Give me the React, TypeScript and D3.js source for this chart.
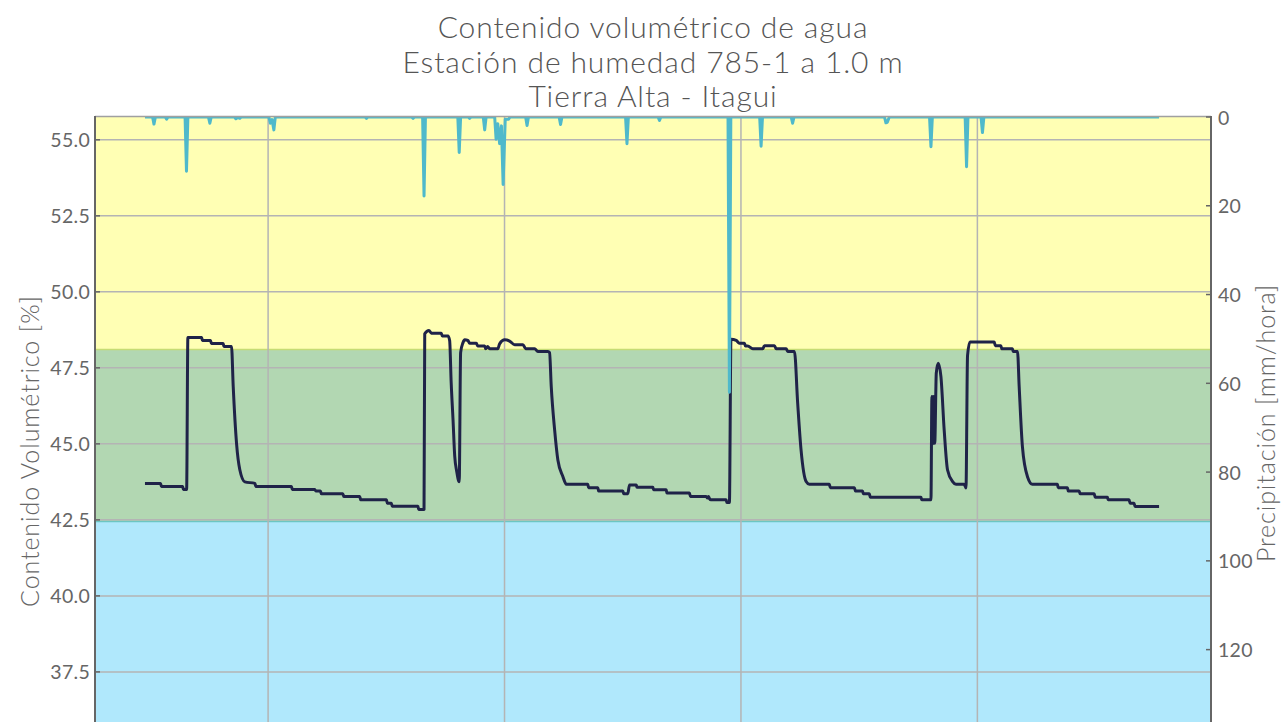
import React, { useEffect, useRef } from "react";
import * as d3 from "d3";

// series start (local time); x values below are hours since this moment
const startDate = new Date(2019, 8, 30, 21);
const endDate = new Date(2019, 10, 2, 22);
const gridDates = ["2019-10-06", "2019-10-13", "2019-10-20", "2019-10-27"];

const titleLines = [
  "Contenido volumétrico de agua",
  "Estación de humedad 785-1 a 1.0 m",
  "Tierra Alta - Itagui",
];

const leftTicks = [37.5, 40.0, 42.5, 45.0, 47.5, 50.0, 52.5, 55.0];
const rightTicks = [0, 20, 40, 60, 80, 100, 120];

// band limits [%]
const bandHigh = 48.1;
const bandLow = 42.45;

// soil water content
const soilHours = [
  35.5, 46.6, 47.2, 62.3, 62.8, 65.1, 66.0, 75.8, 76.3, 82.1, 82.7, 91.1, 91.6,
  97.0, 98.2, 100.6, 102.9, 106.5, 113.6, 114.3, 139.6, 140.2, 156.2, 156.9,
  160.2, 160.8, 176.1, 176.8, 188.1, 188.8, 207.1, 207.7, 210.6, 211.2, 229.5,
  230.0, 233.8, 234.3, 237.3, 239.0, 246.1, 246.7, 250.8, 252.0, 253.1, 254.4,
  255.6, 257.0, 258.8, 259.8, 261.5, 262.7, 265.0, 266.2, 271.0, 271.9, 276.9,
  277.6, 279.0, 280.4, 286.3, 287.5, 291.1, 294.6, 298.2, 304.1, 306.0, 312.4,
  314.7, 321.8, 323.0, 324.2, 326.6, 328.9, 332.5, 334.9, 350.2, 350.7, 357.3,
  357.8, 375.1, 375.6, 378.6, 379.8, 384.6, 385.1, 396.4, 396.9, 405.9, 406.4,
  422.4, 423.1, 434.3, 435.2, 435.9, 436.6, 437.7, 448.5, 449.0, 450.8, 451.9,
  455.6, 457.9, 461.5, 462.2, 463.8, 467.4, 474.5, 475.7, 482.8, 484.0, 491.1,
  492.2, 497.0, 499.3, 501.7, 505.3, 507.6, 521.8, 522.5, 539.6, 540.3, 545.4,
  545.9, 550.2, 550.9, 586.9, 587.5, 594.0, 594.7, 595.3, 596.0, 596.7, 597.8,
  599.2, 601.1, 603.4, 605.8, 609.4, 611.8, 617.6, 618.9, 620.0, 621.7, 639.0,
  639.7, 643.7, 644.3, 651.9, 652.4, 655.5, 656.7, 659.0, 662.6, 666.1, 683.9,
  684.4, 691.0, 691.5, 699.3, 700.0, 710.0, 710.7, 719.4, 719.9, 734.8, 735.5,
  738.3, 739.0, 756.1,
];
const soilValues = [
  43.7, 43.7, 43.6, 43.6, 43.5, 43.5, 48.5, 48.5, 48.4, 48.4, 48.3, 48.3, 48.2,
  48.2, 46.9, 45.0, 44.15, 43.75, 43.7, 43.6, 43.6, 43.5, 43.5, 43.45, 43.45,
  43.36, 43.36, 43.27, 43.27, 43.16, 43.16, 43.05, 43.05, 42.95, 42.95, 42.84,
  42.84, 48.62, 48.73, 48.64, 48.64, 48.55, 48.55, 48.4, 47.0, 45.8, 44.6, 44.1,
  43.75, 48.0, 48.33, 48.42, 48.4, 48.31, 48.31, 48.22, 48.22, 48.13, 48.2,
  48.13, 48.13, 48.29, 48.42, 48.38, 48.26, 48.26, 48.13, 48.13, 48.04, 48.04,
  48.0, 46.88, 45.46, 44.47, 43.92, 43.67, 43.67, 43.56, 43.56, 43.45, 43.45,
  43.36, 43.36, 43.65, 43.65, 43.57, 43.57, 43.49, 43.49, 43.38, 43.38, 43.27,
  43.27, 43.22, 43.27, 43.2, 43.16, 43.16, 43.07, 43.07, 48.44, 48.4, 48.31,
  48.31, 48.22, 48.22, 48.13, 48.13, 48.23, 48.23, 48.13, 48.13, 48.04, 48.04,
  46.34, 44.8, 43.76, 43.67, 43.67, 43.56, 43.56, 43.45, 43.45, 43.36, 43.36,
  43.24, 43.24, 43.16, 43.16, 46.56, 45.0, 46.56, 45.02, 47.33, 47.65, 47.21,
  45.46, 44.14, 43.76, 43.67, 43.67, 43.55, 47.9, 48.35, 48.35, 48.23, 48.23,
  48.13, 48.13, 48.04, 48.04, 46.88, 44.91, 43.92, 43.67, 43.67, 43.56, 43.56,
  43.45, 43.45, 43.36, 43.36, 43.24, 43.24, 43.16, 43.16, 43.05, 43.05, 42.94,
  42.94,
];

// hourly precipitation [mm/hora]
const rainHours = [
  35.5, 40.9, 41.9, 42.9, 49.9, 50.9, 51.9, 64.0, 65.0, 66.0, 80.6, 81.6, 82.6,
  99.1, 100.1, 101.5, 102.9, 103.9, 123.6, 124.6, 125.8, 127.1, 128.1, 191.9,
  192.9, 193.9, 225.0, 226.0, 227.0, 232.8, 233.8, 234.8, 257.8, 258.8, 259.8,
  265.2, 266.2, 267.2, 275.9, 276.9, 277.9, 284.0, 285.0, 286.2, 287.5, 288.8,
  290.0, 291.5, 293.9, 294.9, 306.0, 307.0, 308.0, 329.8, 330.8, 331.8, 377.0,
  378.0, 379.0, 400.1, 401.1, 402.1, 449.8, 450.8, 451.8, 472.3, 473.3, 474.3,
  494.7, 495.7, 496.7, 561.0, 562.0, 563.0, 564.4, 593.0, 594.0, 595.0, 618.3,
  619.3, 620.3, 629.6, 630.6, 631.6, 756.1,
];
const rainValues = [
  0, 0, 1.6, 0, 0, 0.5, 0, 0, 12.2, 0, 0, 1.4, 0, 0, 0.4, 0.1, 0.3, 0, 0, 1.4,
  0.6, 2.9, 0, 0, 0.3, 0, 0, 0.3, 0, 0, 17.8, 0, 0, 8.0, 0, 0, 0.3, 0, 0, 2.9, 0,
  0, 5.0, 1.5, 6.0, 2.0, 15.2, 0.5, 0.5, 0, 0, 1.9, 0, 0, 1.7, 0, 0, 6.0, 0, 0,
  0.8, 0, 0, 62.0, 0, 0, 6.6, 0, 0, 1.4, 0, 0, 1.3, 1.2, 0, 0, 6.7, 0, 0, 11.2,
  0, 0, 3.5, 0, 0,
];

const App: React.FC = () => {
  const svgRef = useRef(null);

  useEffect(() => {
    const width = 1282;
    const height = 722;
    const left = 95;
    const right = 1211;
    const top = 117;
    const bottom = 785; // plot continues below the picture

    const font = "Lato, 'Open Sans', sans-serif";
    const hourToDate = (h: number) =>
      new Date(startDate.getTime() + h * 3600 * 1000);

    const x = d3.scaleTime().domain([startDate, endDate]).range([left, right]);
    const y = d3.scaleLinear().domain([33.78, 55.75]).range([bottom, top]);
    const yRain = d3.scaleLinear().domain([0, 150.5]).range([top, bottom]);

    d3.select(svgRef.current).selectAll("*").remove();
    const svg = d3
      .select(svgRef.current)
      .attr("width", width)
      .attr("height", height);

    svg
      .append("defs")
      .append("clipPath")
      .attr("id", "plot-clip")
      .append("rect")
      .attr("x", left)
      .attr("y", top)
      .attr("width", right - left)
      .attr("height", bottom - top);

    // 🟢 colour bands
    svg
      .append("rect")
      .attr("x", left)
      .attr("y", top)
      .attr("width", right - left)
      .attr("height", y(bandHigh) - top)
      .attr("fill", "#ffffb4");
    svg
      .append("rect")
      .attr("x", left)
      .attr("y", y(bandHigh))
      .attr("width", right - left)
      .attr("height", y(bandLow) - y(bandHigh))
      .attr("fill", "#b2d7b2");
    svg
      .append("rect")
      .attr("x", left)
      .attr("y", y(bandLow))
      .attr("width", right - left)
      .attr("height", bottom - y(bandLow))
      .attr("fill", "#b0e8fc");
    svg
      .append("line")
      .attr("x1", left)
      .attr("x2", right)
      .attr("y1", y(bandHigh))
      .attr("y2", y(bandHigh))
      .attr("stroke", "#c6dc74")
      .attr("stroke-width", 1.5);
    svg
      .append("line")
      .attr("x1", left)
      .attr("x2", right)
      .attr("y1", y(bandLow))
      .attr("y2", y(bandLow))
      .attr("stroke", "#6cc6c2")
      .attr("stroke-width", 1.5);

    // 🟢 grid
    const parse = d3.timeParse("%Y-%m-%d");
    svg
      .append("g")
      .selectAll("line")
      .data(leftTicks)
      .enter()
      .append("line")
      .attr("x1", left)
      .attr("x2", right)
      .attr("y1", (d) => y(d))
      .attr("y2", (d) => y(d))
      .attr("stroke", "#b4b4b4")
      .attr("stroke-width", 1.5);
    svg
      .append("g")
      .selectAll("line")
      .data(gridDates)
      .enter()
      .append("line")
      .attr("x1", (d) => x(parse(d) as Date))
      .attr("x2", (d) => x(parse(d) as Date))
      .attr("y1", top)
      .attr("y2", bottom)
      .attr("stroke", "#b4b4b4")
      .attr("stroke-width", 1.5);

    // 🟢 soil water line
    const soil = soilHours.map((h, i) => ({ t: hourToDate(h), v: soilValues[i] }));
    const soilLine = d3
      .line<{ t: Date; v: number }>()
      .curve(d3.curveMonotoneX)
      .x((d) => x(d.t))
      .y((d) => y(d.v));
    svg
      .append("path")
      .datum(soil)
      .attr("clip-path", "url(#plot-clip)")
      .attr("d", soilLine)
      .attr("fill", "none")
      .attr("stroke", "#1f2348")
      .attr("stroke-width", 3)
      .attr("stroke-linejoin", "round");

    // 🟢 precipitation line (inverted axis)
    const rain = rainHours.map((h, i) => ({ t: hourToDate(h), v: rainValues[i] }));
    const rainLine = d3
      .line<{ t: Date; v: number }>()
      .x((d) => x(d.t))
      .y((d) => yRain(d.v));
    svg
      .append("path")
      .datum(rain)
      .attr("clip-path", "url(#plot-clip)")
      .attr("d", rainLine)
      .attr("fill", "none")
      .attr("stroke", "#4fb9cb")
      .attr("stroke-width", 3)
      .attr("stroke-linejoin", "round");

    // 🟢 frame
    svg
      .append("line")
      .attr("x1", left)
      .attr("x2", right)
      .attr("y1", top - 0.5)
      .attr("y2", top - 0.5)
      .attr("stroke", "#a0a0a0")
      .attr("stroke-width", 1.5);
    svg
      .append("line")
      .attr("x1", left)
      .attr("x2", left)
      .attr("y1", top - 1)
      .attr("y2", height)
      .attr("stroke", "#666")
      .attr("stroke-width", 2);
    svg
      .append("line")
      .attr("x1", right)
      .attr("x2", right)
      .attr("y1", top - 1)
      .attr("y2", height)
      .attr("stroke", "#666")
      .attr("stroke-width", 2);

    // 🟢 left axis
    const leftAxis = svg.append("g");
    leftAxis
      .selectAll("line")
      .data(leftTicks)
      .enter()
      .append("line")
      .attr("x1", left)
      .attr("x2", left + 5)
      .attr("y1", (d) => y(d))
      .attr("y2", (d) => y(d))
      .attr("stroke", "#666")
      .attr("stroke-width", 1.5);
    leftAxis
      .selectAll("text")
      .data(leftTicks)
      .enter()
      .append("text")
      .attr("x", left - 5)
      .attr("y", (d) => y(d))
      .attr("text-anchor", "end")
      .attr("dominant-baseline", "central")
      .attr("font-family", font)
      .attr("font-size", "19.5px")
      .attr("letter-spacing", "0.3px")
      .attr("fill", "#666")
      .text((d) => d3.format(".1f")(d));
    svg
      .append("text")
      .attr("transform", `translate(39, 451) rotate(-90)`)
      .attr("text-anchor", "middle")
      .attr("font-family", font)
      .attr("font-size", "25px")
      .attr("letter-spacing", "0.9px")
      .attr("font-weight", 300)
      .attr("fill", "#666")
      .text("Contenido Volumétrico [%]");

    // 🟢 right axis
    const rightAxis = svg.append("g");
    rightAxis
      .selectAll("line")
      .data(rightTicks)
      .enter()
      .append("line")
      .attr("x1", right - 5)
      .attr("x2", right)
      .attr("y1", (d) => yRain(d))
      .attr("y2", (d) => yRain(d))
      .attr("stroke", "#666")
      .attr("stroke-width", 1.5);
    rightAxis
      .selectAll("text")
      .data(rightTicks)
      .enter()
      .append("text")
      .attr("x", right + 7)
      .attr("y", (d) => yRain(d))
      .attr("text-anchor", "start")
      .attr("dominant-baseline", "central")
      .attr("font-family", font)
      .attr("font-size", "19.5px")
      .attr("letter-spacing", "0.3px")
      .attr("fill", "#666")
      .text((d) => String(d));
    svg
      .append("text")
      .attr("transform", `translate(1275, 423) rotate(-90)`)
      .attr("text-anchor", "middle")
      .attr("font-family", font)
      .attr("font-size", "25px")
      .attr("letter-spacing", "0.9px")
      .attr("font-weight", 300)
      .attr("fill", "#666")
      .text("Precipitación [mm/hora]");

    // 🟢 title
    svg
      .append("g")
      .selectAll("text")
      .data(titleLines)
      .enter()
      .append("text")
      .attr("x", (left + right) / 2)
      .attr("y", (_, i) => 38 + i * 34.5)
      .attr("text-anchor", "middle")
      .attr("font-family", font)
      .attr("font-size", "30px")
      .attr("letter-spacing", "0.9px")
      .attr("font-weight", 300)
      .attr("fill", "#555")
      .text((d) => d);
  }, []);

  return (
    <svg
      ref={svgRef}
      style={{ position: "absolute", left: 0, top: 0, display: "block" }}
    ></svg>
  );
};

export default App;
